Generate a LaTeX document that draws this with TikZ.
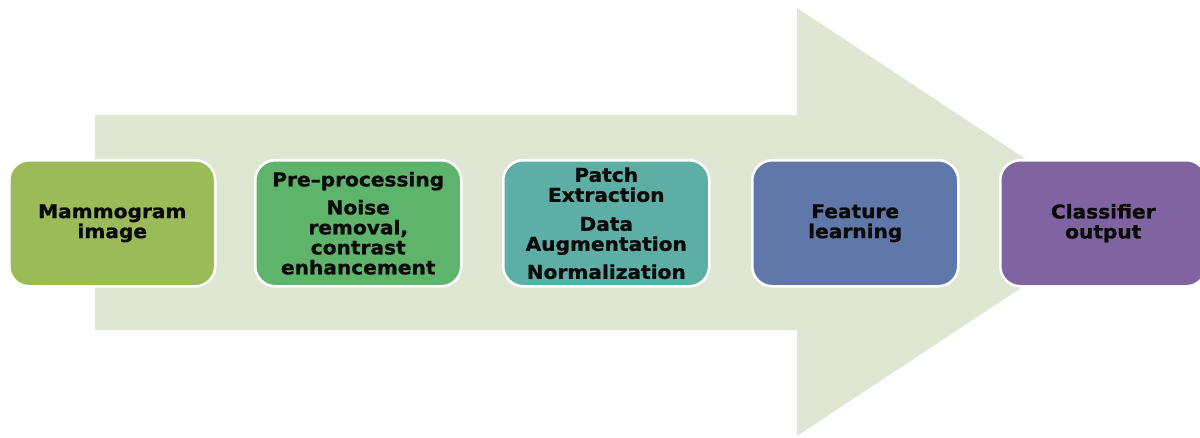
\documentclass[tikz,border=0pt]{standalone}
\usepackage{fontspec}
\newfontfamily\boxfont[FakeStretch=1.06,FakeBold=1]{DejaVu Sans Bold}
\definecolor{arrowfill}{HTML}{DFE7D3}
\definecolor{cA}{HTML}{9BBB59}
\definecolor{cB}{HTML}{5DB46A}
\definecolor{cC}{HTML}{5DAEA5}
\definecolor{cD}{HTML}{6078A9}
\definecolor{cE}{HTML}{8064A2}
\definecolor{txt}{HTML}{0A0A0A}
\tikzset{
  stagebox/.style={draw=white, line width=2.5pt, rounded corners=20pt,
    minimum width=206pt, minimum height=126pt, anchor=north west,
    text=txt, align=center, inner sep=2pt,
    font=\boxfont\fontsize{19}{20}\selectfont},
}
\begin{document}
\begin{tikzpicture}[x=1pt,y=-1pt]
\useasboundingbox (0,0) rectangle (1200,437);
\clip (0,0) rectangle (1200,437);
\fill[arrowfill] (95,115) -- (797,115) -- (797,8) -- (1121,222) -- (797,436) -- (797,330) -- (95,330) -- cycle;
\node[stagebox, fill=cA] (b1) at (8,159) {Mammogram\\image};
\node[stagebox, fill=cB] (b2) at (254,159) {Pre–processing\\[8pt]Noise\\removal,\\contrast\\enhancement};
\node[stagebox, fill=cC] (b3) at (502,159) {Patch\\Extraction\\[9pt]Data\\Augmentation\\[8pt]Normalization};
\node[stagebox, fill=cD] (b4) at (751,159) {Feature\\learning};
\node[stagebox, fill=cE] (b5) at (999,159) {Classifier\\output};
\end{tikzpicture}
\end{document}
